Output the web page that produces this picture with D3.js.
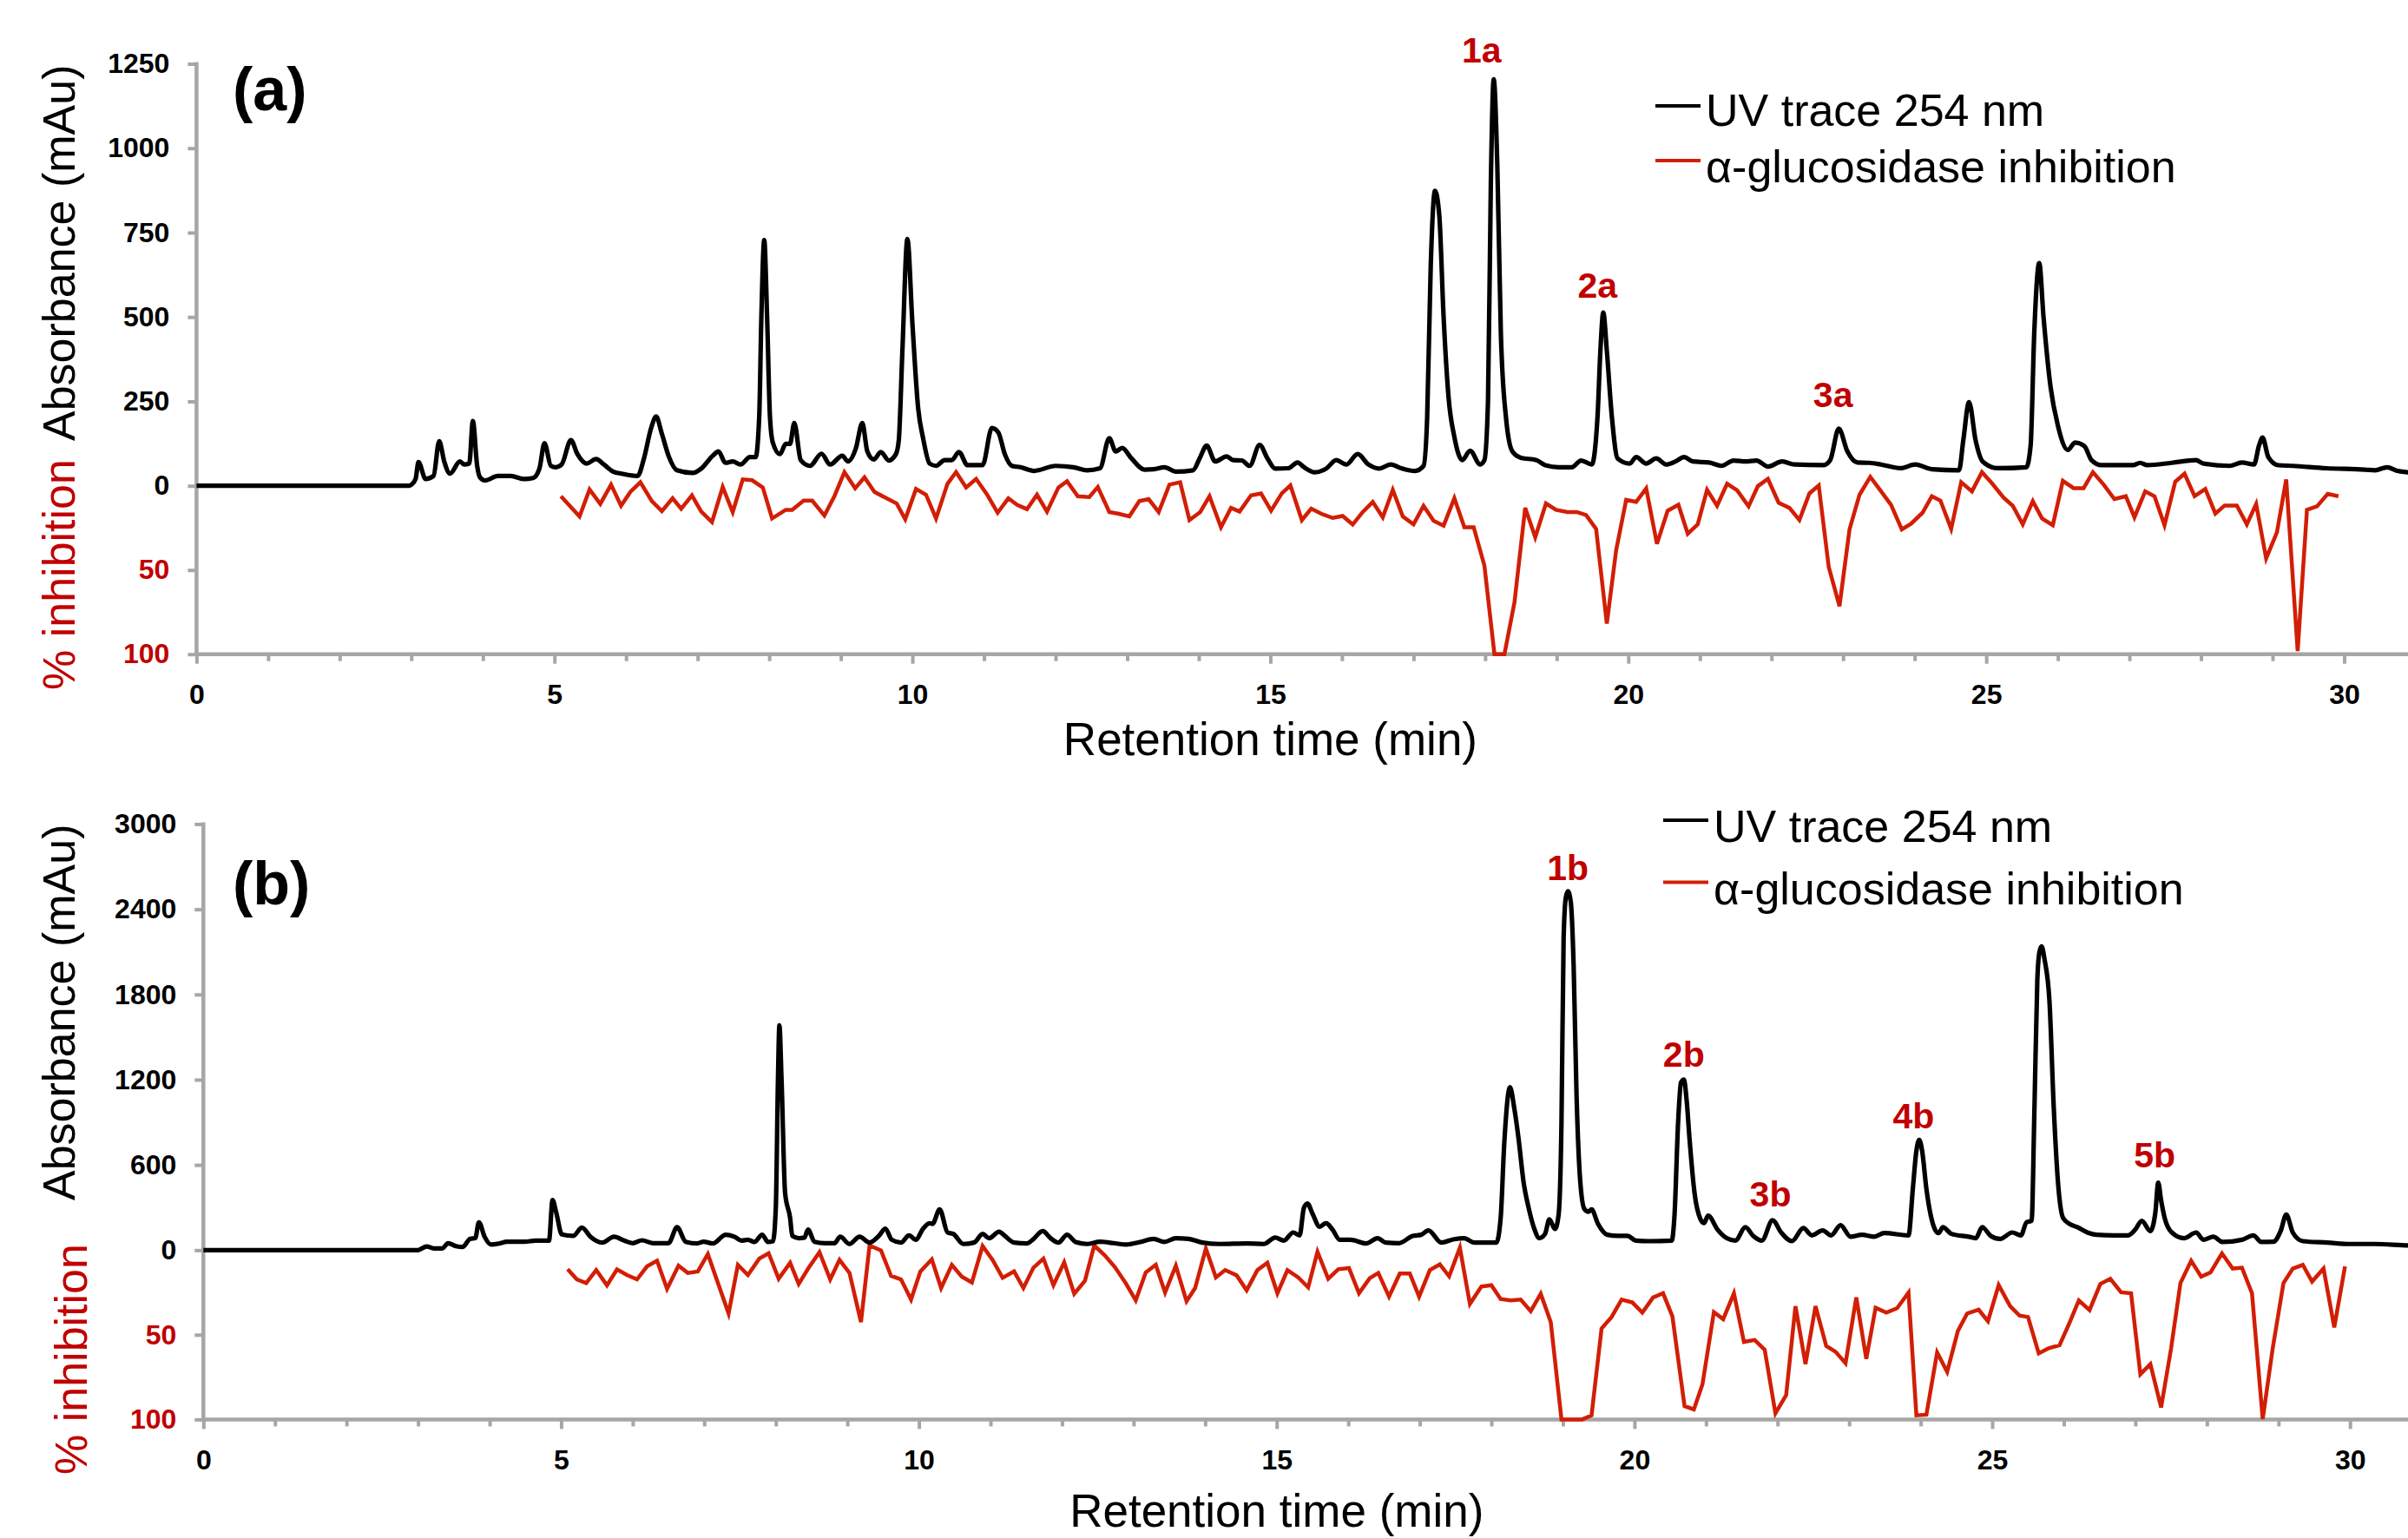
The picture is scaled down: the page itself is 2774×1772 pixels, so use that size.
<!DOCTYPE html>
<html>
<head>
<meta charset="UTF-8">
<title>HPLC activity profile</title>
<script src="https://cdn.jsdelivr.net/npm/d3@7/dist/d3.min.js"></script>
<style type="text/css">
body, html {
    margin: 0;
    padding: 0;
    background: #fff;
}
svg {
    display: block;
    font-family: "Liberation Sans", Arial, sans-serif;
}
.axis path { display: none; }
.axis line { stroke: #a6a6a6; stroke-width: 4; }
.axis text { font-size: 32px; font-weight: bold; fill: #000; }
.axis.inh text { fill: #c00000; }
</style>
</head>
<body>
<div class="chart"></div>
<script type="text/javascript">
// x ticks (min) and y ticks
var timeTicks  = [0, 5, 10, 15, 20, 25, 30];
var minorTicks = d3.range(0, 32).filter(function (t) { return t % 5 !== 0; });
var absTicksA  = [0, 250, 500, 750, 1000, 1250];
var absTicksB  = [0, 600, 1200, 1800, 2400, 3000];
var inhTicks   = [50, 100];

// (a) UV trace 254 nm : [time (min), absorbance (mAu)]
var uvA = [[0,0],[2.97,0],[3.0,3],[3.06,20],[3.1,70],[3.2,20],[3.31,29],[3.39,132],[3.46,72],[3.54,36],[3.68,72],[3.74,63],[3.81,66],[3.86,192],[3.92,59],[3.96,25],[4.03,16],[4.21,29],[4.39,29],[4.58,20],[4.7,23],[4.79,51],[4.86,126],[4.95,59],[5.02,55],[5.1,63],[5.23,135],[5.32,94],[5.45,66],[5.58,79],[5.69,63],[5.82,42],[5.94,36],[6.16,29],[6.25,81],[6.35,171],[6.42,205],[6.5,154],[6.6,85],[6.71,46],[6.93,38],[7.05,51],[7.21,89],[7.29,102],[7.39,68],[7.49,72],[7.6,63],[7.73,85],[7.81,85],[7.86,205],[7.89,500],[7.93,728],[7.97,500],[8.01,205],[8.05,128],[8.15,94],[8.23,124],[8.29,124],[8.35,186],[8.44,76],[8.57,59],[8.73,95],[8.85,63],[9.02,89],[9.1,72],[9.21,111],[9.3,186],[9.37,102],[9.46,78],[9.56,100],[9.67,75],[9.77,94],[9.81,136],[9.86,400],[9.93,731],[10.0,480],[10.08,230],[10.15,140],[10.24,66],[10.33,59],[10.45,76],[10.55,76],[10.65,100],[10.77,61],[10.98,61],[11.11,171],[11.2,158],[11.29,94],[11.39,59],[11.51,55],[11.7,44],[12.0,59],[12.25,55],[12.44,46],[12.62,52],[12.75,141],[12.84,102],[12.93,112],[13.06,81],[13.24,48],[13.37,49],[13.52,55],[13.68,42],[13.92,46],[14.02,85],[14.11,119],[14.23,72],[14.39,87],[14.48,76],[14.6,75],[14.71,59],[14.85,121],[14.96,81],[15.07,51],[15.25,52],[15.38,69],[15.47,55],[15.62,40],[15.78,51],[15.92,76],[16.06,63],[16.22,94],[16.37,63],[16.52,51],[16.68,63],[16.83,52],[17.02,44],[17.14,59],[17.19,200],[17.24,650],[17.3,874],[17.36,800],[17.42,500],[17.49,260],[17.57,145],[17.68,76],[17.79,104],[17.93,63],[17.99,76],[18.04,250],[18.08,900],[18.12,1204],[18.17,950],[18.22,450],[18.29,205],[18.38,102],[18.5,83],[18.72,76],[18.84,61],[19.03,55],[19.21,55],[19.34,75],[19.49,63],[19.57,205],[19.61,400],[19.65,513],[19.7,400],[19.77,205],[19.85,81],[20.02,66],[20.11,85],[20.25,66],[20.39,81],[20.53,63],[20.66,72],[20.78,85],[20.9,72],[21.13,69],[21.3,59],[21.47,75],[21.64,72],[21.79,75],[21.95,57],[22.15,72],[22.32,63],[22.72,61],[22.82,76],[22.94,169],[23.06,102],[23.2,69],[23.37,68],[23.53,63],[23.8,52],[24.01,63],[24.24,49],[24.62,46],[24.68,136],[24.76,248],[24.85,136],[24.95,72],[25.16,52],[25.56,55],[25.62,120],[25.67,450],[25.74,660],[25.8,500],[25.9,290],[26.0,179],[26.14,106],[26.24,128],[26.37,118],[26.47,76],[26.61,61],[27.05,61],[27.15,68],[27.25,61],[27.59,68],[27.93,76],[28.03,66],[28.4,59],[28.57,69],[28.74,63],[28.81,119],[28.86,143],[28.94,85],[29.08,61],[29.28,59],[29.75,52],[30.29,48],[30.43,46],[30.6,55],[30.73,45],[30.89,40],[31,38]];

// (a) alpha-glucosidase inhibition : [time (min), % inhibition]
var inhA = [[5.09,6.2],[5.35,18.2],[5.49,2.2],[5.64,10.8],[5.79,-0.7],[5.93,11.9],[6.06,3.6],[6.2,-2.1],[6.36,9.1],[6.5,15.1],[6.65,7.4],[6.77,13.6],[6.92,5.7],[7.05,15.3],[7.2,21.6],[7.35,0.7],[7.49,15.6],[7.63,-3.8],[7.76,-3.3],[7.91,1.0],[8.04,19.4],[8.23,14.3],[8.32,14.3],[8.48,8.8],[8.6,8.8],[8.77,17.7],[8.91,6.2],[9.05,-8.1],[9.2,1.5],[9.33,-5.0],[9.47,3.6],[9.62,7.0],[9.78,10.5],[9.9,19.9],[10.05,1.9],[10.19,5.3],[10.33,19.4],[10.49,-1.2],[10.61,-8.1],[10.75,1.0],[10.89,-4.1],[11.04,5.0],[11.19,16.0],[11.34,7.4],[11.46,11.3],[11.6,13.9],[11.74,5.3],[11.88,15.3],[12.04,1.0],[12.16,-2.7],[12.31,6.2],[12.47,6.7],[12.59,0.7],[12.75,15.6],[12.87,16.5],[13.03,18.2],[13.17,9.1],[13.3,7.9],[13.44,15.6],[13.59,-0.7],[13.74,-2.1],[13.87,20.4],[14.02,15.6],[14.15,6.2],[14.31,24.6],[14.45,13.1],[14.57,15.3],[14.73,5.7],[14.87,4.5],[15.01,14.8],[15.16,4.5],[15.28,-0.2],[15.44,20.4],[15.57,13.6],[15.72,16.8],[15.87,19.1],[16.01,17.9],[16.15,23.0],[16.29,15.6],[16.43,9.6],[16.57,18.7],[16.71,2.4],[16.85,18.2],[17.0,22.9],[17.14,11.9],[17.28,20.8],[17.42,23.7],[17.57,7.4],[17.71,24.6],[17.84,24.6],[17.99,47.4],[18.13,100],[18.27,100],[18.41,69.2],[18.56,13.1],[18.7,30.6],[18.85,10.5],[18.99,14.3],[19.15,15.6],[19.28,15.6],[19.41,17.4],[19.55,25.6],[19.7,81.8],[19.83,38.3],[19.97,8.4],[20.11,9.6],[20.25,1.5],[20.4,34.5],[20.55,14.8],[20.7,11.3],[20.83,28.5],[20.97,22.9],[21.1,2.4],[21.24,11.9],[21.38,-1.2],[21.52,2.7],[21.68,12.2],[21.81,0.2],[21.95,-4.1],[22.1,10.1],[22.25,13.1],[22.39,20.3],[22.53,4.5],[22.66,-0.2],[22.8,48.3],[22.95,71.5],[23.09,25.9],[23.23,5.3],[23.38,-5.3],[23.52,2.7],[23.67,11.3],[23.82,25.9],[23.95,22.5],[24.11,16.0],[24.24,6.2],[24.36,8.8],[24.51,25.6],[24.65,-2.1],[24.8,3.3],[24.94,-8.1],[25.08,-1.5],[25.24,7.0],[25.37,11.9],[25.51,22.9],[25.65,9.1],[25.78,19.4],[25.93,23.4],[26.07,-2.9],[26.22,1.4],[26.36,1.4],[26.49,-8.1],[26.64,-0.7],[26.79,7.9],[26.95,6.2],[27.07,18.7],[27.22,3.3],[27.35,6.2],[27.49,23.4],[27.64,-2.4],[27.77,-7.2],[27.91,6.2],[28.06,1.9],[28.2,16.5],[28.33,11.7],[28.5,11.7],[28.64,22.9],[28.77,10.8],[28.91,43.1],[29.06,27.7],[29.19,-3.8],[29.35,98.1],[29.48,14.3],[29.62,12.2],[29.77,4.8],[29.92,6.2]];

// (b) UV trace 254 nm
var uvB = [[0,0],[3.0,0],[3.03,6],[3.12,26],[3.22,12],[3.34,12],[3.42,49],[3.53,28],[3.62,22],[3.73,79],[3.8,84],[3.85,196],[3.93,94],[4.02,39],[4.14,47],[4.24,59],[4.49,59],[4.64,67],[4.83,67],[4.88,352],[4.93,267],[5.01,110],[5.17,100],[5.29,159],[5.41,94],[5.57,53],[5.74,94],[5.88,67],[6.0,49],[6.13,69],[6.28,49],[6.5,49],[6.62,161],[6.74,59],[6.9,47],[6.99,59],[7.12,47],[7.3,108],[7.42,94],[7.52,67],[7.61,73],[7.7,57],[7.81,108],[7.89,57],[7.96,63],[8.0,300],[8.03,1200],[8.05,1582],[8.08,1200],[8.13,400],[8.2,226],[8.23,100],[8.32,84],[8.4,88],[8.45,145],[8.54,59],[8.69,49],[8.82,49],[8.9,94],[9.03,43],[9.17,94],[9.31,53],[9.44,100],[9.53,151],[9.62,73],[9.75,53],[9.86,104],[9.96,73],[10.05,145],[10.15,189],[10.19,185],[10.29,287],[10.4,124],[10.48,114],[10.62,43],[10.77,53],[10.89,114],[10.98,84],[11.12,130],[11.2,100],[11.33,53],[11.51,47],[11.59,73],[11.73,134],[11.84,84],[11.95,53],[12.07,108],[12.19,57],[12.35,43],[12.53,59],[12.72,49],[12.9,39],[13.09,57],[13.28,79],[13.43,57],[13.59,84],[13.77,79],[13.96,53],[14.2,43],[14.58,47],[14.82,43],[14.98,88],[15.1,67],[15.23,124],[15.32,104],[15.38,297],[15.43,328],[15.5,257],[15.6,165],[15.69,189],[15.78,145],[15.88,73],[16.03,73],[16.25,47],[16.41,84],[16.52,53],[16.71,49],[16.9,100],[17.02,108],[17.12,139],[17.3,53],[17.48,77],[17.62,84],[17.76,53],[18.07,53],[18.13,226],[18.18,750],[18.26,1147],[18.32,1000],[18.38,785],[18.45,480],[18.52,300],[18.6,150],[18.67,84],[18.75,114],[18.81,216],[18.89,149],[18.94,250],[18.98,900],[19.01,2200],[19.04,2480],[19.07,2527],[19.11,2450],[19.15,2000],[19.19,1100],[19.24,500],[19.3,290],[19.36,270],[19.4,287],[19.49,185],[19.62,108],[19.77,100],[19.9,100],[20.02,67],[20.21,63],[20.52,67],[20.56,250],[20.61,900],[20.65,1180],[20.69,1200],[20.73,1050],[20.77,780],[20.84,400],[20.92,220],[20.97,190],[21.03,242],[21.16,145],[21.29,84],[21.41,67],[21.55,161],[21.66,100],[21.78,67],[21.93,210],[22.05,124],[22.2,63],[22.36,155],[22.48,104],[22.63,139],[22.75,104],[22.88,175],[23.02,94],[23.18,108],[23.35,94],[23.49,120],[23.83,104],[23.89,430],[23.94,700],[23.98,776],[24.02,700],[24.08,430],[24.2,145],[24.25,120],[24.31,161],[24.43,114],[24.67,94],[24.77,84],[24.86,161],[24.98,100],[25.11,79],[25.28,124],[25.4,104],[25.48,196],[25.55,206],[25.59,1000],[25.63,1900],[25.66,2100],[25.69,2138],[25.73,2050],[25.8,1750],[25.86,1000],[25.92,470],[25.99,226],[26.08,185],[26.19,161],[26.33,124],[26.46,108],[26.7,104],[26.9,104],[27.0,145],[27.09,206],[27.21,134],[27.28,267],[27.32,475],[27.36,350],[27.41,226],[27.51,124],[27.68,84],[27.85,124],[27.95,73],[28.09,94],[28.22,57],[28.49,73],[28.65,104],[28.76,57],[28.93,59],[29.03,134],[29.11,250],[29.2,124],[29.34,63],[29.68,53],[30.01,43],[30.35,43],[30.81,33],[31,32]];

// (b) alpha-glucosidase inhibition
var inhB = [[5.09,11.3],[5.22,17.3],[5.35,19.5],[5.49,11.8],[5.64,20.8],[5.78,11.4],[5.92,14.7],[6.06,17.3],[6.2,9.6],[6.34,6.3],[6.48,22.9],[6.64,9.2],[6.77,13.5],[6.91,12.6],[7.05,2.4],[7.34,37.4],[7.47,8.7],[7.61,14.7],[7.77,5.0],[7.9,1.9],[8.04,16.9],[8.2,7.5],[8.32,20.0],[8.46,10.4],[8.61,1.2],[8.76,17.3],[8.89,5.8],[9.03,13.5],[9.19,42.5],[9.31,-2.7],[9.47,0.2],[9.61,15.2],[9.75,17.3],[9.89,29.2],[10.02,12.6],[10.18,5.5],[10.31,22.4],[10.46,8.7],[10.6,15.7],[10.74,19.1],[10.89,-2.4],[11.03,5.8],[11.17,16.4],[11.33,12.6],[11.46,22.4],[11.6,10.4],[11.74,5.0],[11.88,20.7],[12.03,7.2],[12.17,25.8],[12.32,18.1],[12.45,-2.7],[12.6,3.2],[12.74,10.1],[12.89,19.5],[13.03,29.7],[13.17,13.2],[13.31,8.7],[13.44,25.1],[13.59,9.2],[13.74,30.2],[13.86,22.4],[14.01,-1.0],[14.15,16.1],[14.28,11.8],[14.44,14.9],[14.58,23.7],[14.73,11.8],[14.87,7.5],[15.01,25.5],[15.15,11.8],[15.3,16.1],[15.44,22.0],[15.57,1.0],[15.72,16.9],[15.86,11.3],[16.01,10.6],[16.15,25.5],[16.3,16.6],[16.42,13.5],[16.57,27.5],[16.72,13.8],[16.86,13.8],[16.99,27.5],[17.14,11.8],[17.28,8.4],[17.41,15.5],[17.56,-1.4],[17.7,31.8],[17.86,21.5],[18.0,20.7],[18.13,28.9],[18.27,29.7],[18.41,29.2],[18.55,36.1],[18.69,25.8],[18.83,42.5],[18.98,100],[19.12,100],[19.27,100],[19.4,97.6],[19.54,46.3],[19.68,39.5],[19.82,29.2],[19.97,30.9],[20.11,36.9],[20.26,28.0],[20.4,25.5],[20.53,39.1],[20.7,92.1],[20.83,94.1],[20.95,79.3],[21.11,36.6],[21.24,40.8],[21.39,25.5],[21.53,54.2],[21.68,53.1],[21.82,58.8],[21.97,96.4],[22.12,85.6],[22.25,33.1],[22.39,67.3],[22.53,33.1],[22.68,56.6],[22.81,60.0],[22.95,66.8],[23.1,28.0],[23.24,64.2],[23.37,34.0],[23.52,36.9],[23.67,34.3],[23.83,25.1],[23.94,97.6],[24.08,97.2],[24.23,60.5],[24.37,71.9],[24.52,47.7],[24.65,37.4],[24.81,35.2],[24.94,42.0],[25.09,20.7],[25.25,33.1],[25.38,38.6],[25.5,39.5],[25.65,61.0],[25.79,57.9],[25.94,56.2],[26.08,42.9],[26.21,29.7],[26.36,35.4],[26.51,20.0],[26.65,16.9],[26.8,24.9],[26.94,25.5],[27.07,73.3],[27.21,67.3],[27.36,92.9],[27.5,57.9],[27.63,19.5],[27.78,6.3],[27.92,15.7],[28.05,13.2],[28.21,1.9],[28.36,10.9],[28.49,10.4],[28.63,25.5],[28.78,99.8],[28.92,57.9],[29.07,19.5],[29.2,10.9],[29.34,8.7],[29.47,18.6],[29.63,10.9],[29.78,45.6],[29.93,9.7]];

// active peak labels : [label, time (min), absorbance at label baseline]
var peaksA = [["1a", 17.95, 1255], ["2a", 19.57, 558], ["3a", 22.86, 232]];
var peaksB = [["1b", 19.07, 2608], ["2b", 20.69, 1293], ["3b", 21.9, 307], ["4b", 23.9, 859], ["5b", 27.27, 581]];

var legendNames = ["UV trace 254 nm", "\u03b1-glucosidase inhibition"];

var W = 2774, H = 1772;
var red = "#d21e05", darkRed = "#c00000", axisGrey = "#a6a6a6";

var svg = d3.select(".chart")
    .append("svg")
    .attr("width", W)
    .attr("height", H);

svg.append("rect").attr("width", W).attr("height", H).attr("fill", "#fff");

function drawPanel(p)
{
    var g = svg.append("g");

    var x = d3.scaleLinear().domain([0, 31]).range([p.x0, p.x0 + 31 * p.pxPerMin]);
    var yAbs = d3.scaleLinear().domain([0, p.absMax]).range([p.zero, p.top]);
    var yInh = d3.scaleLinear().domain([0, 100]).range([p.zero, p.bottom]);
    var plain = function (d) { return String(d); };

    // axis lines
    g.append("line")
        .attr("x1", p.x0).attr("x2", p.x0)
        .attr("y1", p.top - 2).attr("y2", p.bottom)
        .attr("stroke", axisGrey).attr("stroke-width", 4.5);
    g.append("line")
        .attr("x1", p.x0 - 2).attr("x2", W)
        .attr("y1", p.bottom).attr("y2", p.bottom)
        .attr("stroke", axisGrey).attr("stroke-width", 4.5);

    // x axis
    g.append("g")
        .attr("class", "axis")
        .attr("transform", "translate(0," + p.bottom + ")")
        .call(d3.axisBottom(x).tickValues(minorTicks).tickSize(8).tickFormat(""));
    g.append("g")
        .attr("class", "axis")
        .attr("transform", "translate(0," + p.bottom + ")")
        .call(d3.axisBottom(x).tickValues(timeTicks).tickSize(11).tickPadding(24).tickFormat(plain));

    // y axes : absorbance on top, % inhibition below
    g.append("g")
        .attr("class", "axis")
        .attr("transform", "translate(" + p.x0 + ",0)")
        .call(d3.axisLeft(yAbs).tickValues(p.absTicks).tickSize(10).tickPadding(21).tickFormat(plain));
    g.append("g")
        .attr("class", "axis inh")
        .attr("transform", "translate(" + p.x0 + ",0)")
        .call(d3.axisLeft(yInh).tickValues(inhTicks).tickSize(10).tickPadding(21).tickFormat(plain));

    // traces
    var uvLine = d3.line()
        .x(function (d) { return x(d[0]); })
        .y(function (d) { return yAbs(d[1]); })
        .curve(d3.curveMonotoneX);

    var inhLine = d3.line()
        .x(function (d) { return x(d[0]); })
        .y(function (d) { return yInh(d[1]); });

    g.append("path")
        .datum(p.inh)
        .attr("d", inhLine)
        .attr("fill", "none")
        .attr("stroke", red)
        .attr("stroke-width", 4.5)
        .attr("stroke-linejoin", "miter");

    g.append("path")
        .datum(p.uv)
        .attr("d", uvLine)
        .attr("fill", "none")
        .attr("stroke", "#000")
        .attr("stroke-width", 5.2)
        .attr("stroke-linejoin", "round");

    // peak labels
    g.selectAll(".peak")
        .data(p.peaks)
        .enter()
        .append("text")
        .attr("x", function (d) { return x(d[1]); })
        .attr("y", function (d) { return yAbs(d[2]); })
        .attr("text-anchor", "middle")
        .attr("font-size", 41)
        .attr("font-weight", "bold")
        .attr("fill", darkRed)
        .text(function (d) { return d[0]; });

    // axis titles
    g.append("text")
        .attr("transform", "translate(" + p.absTitle[0] + "," + p.absTitle[1] + ") rotate(-90)")
        .attr("font-size", 52)
        .attr("fill", "#000")
        .text("Absorbance (mAu)");
    g.append("text")
        .attr("transform", "translate(" + p.inhTitle[0] + "," + p.inhTitle[1] + ") rotate(-90)")
        .attr("font-size", 52)
        .attr("fill", darkRed)
        .text("% inhibition");
    g.append("text")
        .attr("x", x(15))
        .attr("y", p.xTitleY)
        .attr("text-anchor", "middle")
        .attr("font-size", 53)
        .text("Retention time (min)");

    // panel tag
    g.append("text")
        .attr("x", 268)
        .attr("y", p.tagY)
        .attr("font-size", 70)
        .attr("font-weight", "bold")
        .text(p.tag);

    // legend
    var leg = g.append("g");
    [["#000", 0], [red, 1]].forEach(function (s)
    {
        leg.append("line")
            .attr("x1", p.legX).attr("x2", p.legX + 52)
            .attr("y1", p.legLineY[s[1]]).attr("y2", p.legLineY[s[1]])
            .attr("stroke", s[0]).attr("stroke-width", 4);
        leg.append("text")
            .attr("x", p.legX + 58)
            .attr("y", p.legTextY[s[1]])
            .attr("font-size", 52)
            .attr("fill", "#000")
            .text(legendNames[s[1]]);
    });
}

drawPanel({
    tag: "(a)", tagY: 127,
    x0: 226.4, pxPerMin: 82.47,
    top: 73.5, zero: 559.7, bottom: 753.7,
    absMax: 1250, absTicks: absTicksA,
    uv: uvA, inh: inhA, peaks: peaksA,
    absTitle: [86, 508], inhTitle: [86, 795], xTitleY: 870,
    legX: 1907, legLineY: [122, 185], legTextY: [145, 209.5]
});

drawPanel({
    tag: "(b)", tagY: 1042,
    x0: 234.3, pxPerMin: 82.43,
    top: 949.4, zero: 1440.3, bottom: 1635.4,
    absMax: 3000, absTicks: absTicksB,
    uv: uvB, inh: inhB, peaks: peaksB,
    absTitle: [86, 1383], inhTitle: [100, 1699], xTitleY: 1759,
    legX: 1916, legLineY: [945, 1016.5], legTextY: [970, 1042]
});
</script>
</body>
</html>
